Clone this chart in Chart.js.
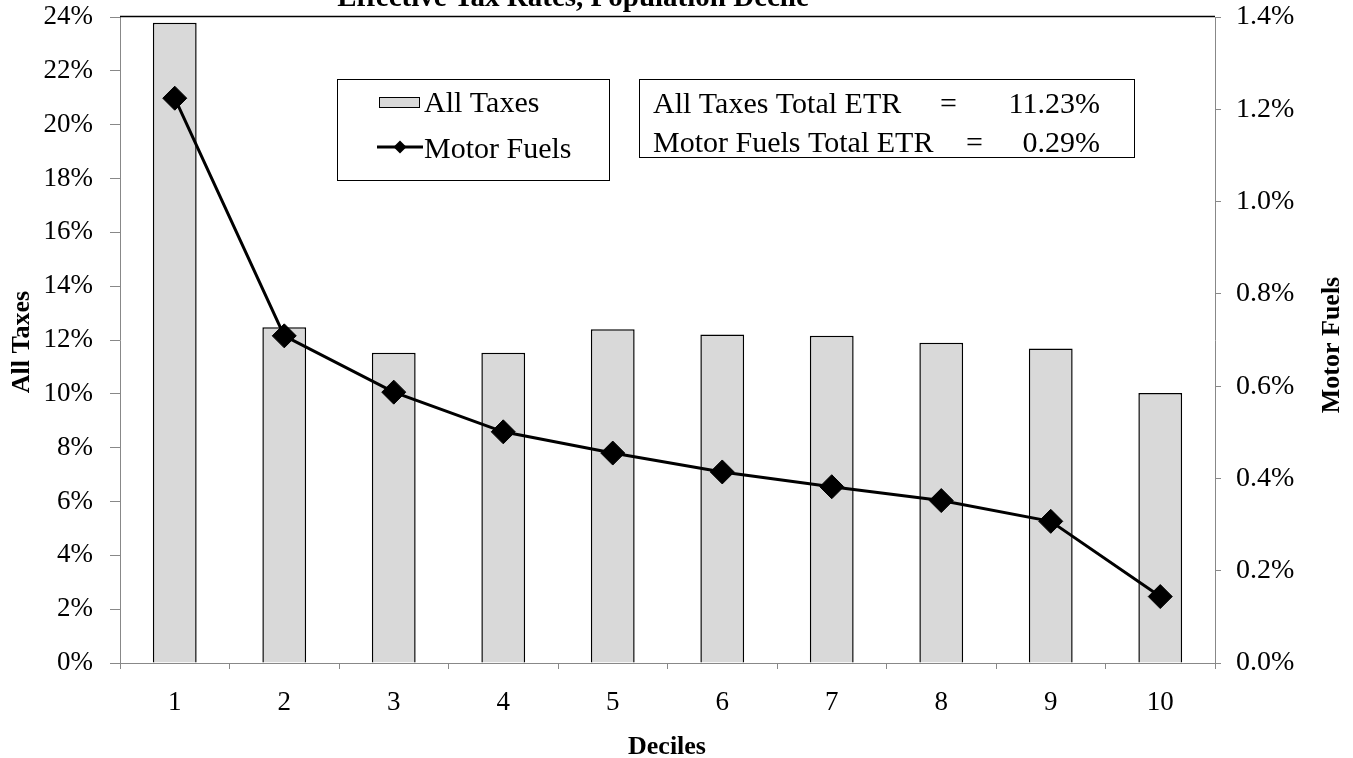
<!DOCTYPE html>
<html>
<head>
<meta charset="utf-8">
<script src="https://cdn.jsdelivr.net/npm/chart.js@4/dist/chart.umd.min.js"></script>
<style>
  html, body { margin: 0; padding: 0; background: #fff; }
  canvas { display: block; }
</style>
</head>
<body>
<canvas id="chart" width="1353" height="758"></canvas>
<script>
const deciles = ["1", "2", "3", "4", "5", "6", "7", "8", "9", "10"];
const allTaxes = [23.79, 12.47, 11.53, 11.53, 12.40, 12.20, 12.16, 11.90, 11.68, 10.03];
const motorFuels = [1.224, 0.709, 0.587, 0.501, 0.455, 0.414, 0.382, 0.352, 0.307, 0.144];
const totalLabels = ["All Taxes Total ETR", "Motor Fuels Total ETR"];
const totalValues = ["11.23%", "0.29%"];
const chartTitle = "Effective Tax Rates, Population Decile";

const serif = '"Liberation Serif", "Times New Roman", serif';
const axisGray = "#888888";
const barFill = "#d9d9d9";

// title, legend boxes, axis titles and the top frame line
const extras = {
    id: "extras",
    afterDraw(chart) {
        const ctx = chart.ctx;
        const area = chart.chartArea;
        ctx.save();

        ctx.strokeStyle = "#000";
        ctx.lineWidth = 1.5;
        ctx.beginPath();
        ctx.moveTo(area.left, area.top - 0.5);
        ctx.lineTo(area.right, area.top - 0.5);
        ctx.stroke();

        ctx.fillStyle = "#000";
        ctx.font = "bold 29px " + serif;
        ctx.textAlign = "center";
        ctx.textBaseline = "alphabetic";
        ctx.fillText(chartTitle, 573, 6);

        ctx.font = "bold 26px " + serif;
        ctx.fillText("Deciles", 667, 754);
        ctx.save();
        ctx.translate(29, 342);
        ctx.rotate(-Math.PI / 2);
        ctx.fillText("All Taxes", 0, 0);
        ctx.restore();
        ctx.save();
        ctx.translate(1339, 345);
        ctx.rotate(-Math.PI / 2);
        ctx.fillText("Motor Fuels", 0, 0);
        ctx.restore();

        // legend box
        const bars = chart.data.datasets.find(d => d.type === "bar");
        const line = chart.data.datasets.find(d => d.type === "line");
        ctx.lineWidth = 1;
        ctx.strokeStyle = "#000";
        ctx.strokeRect(337.5, 79.5, 272, 101);
        ctx.fillStyle = barFill;
        ctx.fillRect(379.5, 97.5, 40, 10);
        ctx.strokeRect(379.5, 97.5, 40, 10);
        ctx.lineWidth = 3;
        ctx.beginPath();
        ctx.moveTo(377, 147);
        ctx.lineTo(423, 147);
        ctx.stroke();
        ctx.fillStyle = "#000";
        ctx.beginPath();
        ctx.moveTo(400, 140.5);
        ctx.lineTo(406.5, 147);
        ctx.lineTo(400, 153.5);
        ctx.lineTo(393.5, 147);
        ctx.closePath();
        ctx.fill();

        ctx.font = "30px " + serif;
        ctx.textAlign = "left";
        ctx.fillText(bars.label, 424, 112);
        ctx.fillText(line.label, 424, 158);

        // totals box
        ctx.lineWidth = 1;
        ctx.strokeRect(639.5, 79.5, 495, 78);
        const rows = [113, 152];
        const eqX = [940, 966];
        for (let i = 0; i < totalLabels.length; i++) {
            ctx.textAlign = "left";
            ctx.fillText(totalLabels[i], 653, rows[i]);
            ctx.fillText("=", eqX[i], rows[i]);
            ctx.textAlign = "right";
            ctx.fillText(totalValues[i], 1100, rows[i]);
        }
        ctx.restore();
    }
};

// drop the half-label overhang so the plot top sits where the reference has it
function fixVertical(width) {
    return function (scale) {
        scale.width = width;
        scale.paddingTop = 0;
        scale.paddingBottom = 0;
    };
}

new Chart("chart", {
    data: {
        labels: deciles,
        datasets: [
            {
                type: "bar",
                label: "All Taxes",
                data: allTaxes,
                yAxisID: "y",
                order: 2,
                backgroundColor: barFill,
                borderColor: "#000",
                borderWidth: 1.5,
                barPercentage: 0.4,
                categoryPercentage: 1
            },
            {
                type: "line",
                label: "Motor Fuels",
                data: motorFuels,
                yAxisID: "y1",
                order: 1,
                borderColor: "#000",
                borderWidth: 3,
                pointStyle: "rectRot",
                pointRadius: 12,
                pointBackgroundColor: "#000",
                pointBorderColor: "#000",
                pointBorderWidth: 1,
                tension: 0,
                fill: false
            }
        ]
    },
    options: {
        responsive: false,
        animation: false,
        layout: { padding: { top: 17, left: 0, right: 0, bottom: 0 } },
        plugins: {
            legend: { display: false },
            tooltip: { enabled: false },
            title: { display: false }
        },
        scales: {
            x: {
                offset: true,
                grid: { offset: true, drawOnChartArea: false, tickLength: 6, color: axisGray },
                border: { color: axisGray, width: 1 },
                ticks: { color: "#000", font: { family: serif, size: 27 }, padding: 18 },
                afterFit(scale) { scale.height = 95; }
            },
            y: {
                position: "left",
                min: 0,
                max: 24,
                grid: { drawOnChartArea: false, tickLength: 10, color: axisGray },
                border: { color: axisGray, width: 1 },
                ticks: {
                    stepSize: 2,
                    color: "#000",
                    padding: 17,
                    font: { family: serif, size: 27 },
                    callback: v => v + "%"
                },
                afterFit: fixVertical(120)
            },
            y1: {
                position: "right",
                min: 0,
                max: 1.4,
                grid: { drawOnChartArea: false, tickLength: 6, color: axisGray },
                border: { color: axisGray, width: 1 },
                ticks: {
                    stepSize: 0.2,
                    color: "#000",
                    padding: 15,
                    font: { family: serif, size: 28 },
                    callback: v => v.toFixed(1) + "%"
                },
                afterFit: fixVertical(138)
            }
        }
    },
    plugins: [extras]
});
</script>
</body>
</html>
